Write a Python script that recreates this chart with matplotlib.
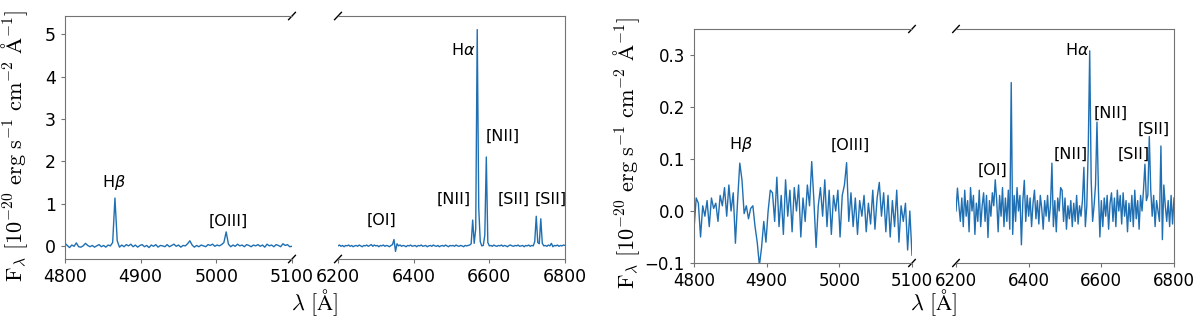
"""Broken-axis emission line spectra, two apertures side by side."""
import matplotlib
import numpy as np

matplotlib.use("Agg")
from matplotlib import pyplot as plt

# wavelength grids (Angstrom)
wave_blue = np.arange(4800, 5101, 3)
wave_red = np.arange(6200, 6801, 4)

# bright aperture, flux in 1e-20 erg/s/cm2/A
flux_a_blue = [
    0.06, 0.01, -0.04, 0.02, -0.01, 0.07, -0.02, -0.03, 0.00, 0.06,
    0.01, -0.02, 0.01, -0.03, 0.00, 0.03, -0.02, 0.01, -0.03, 0.02,
    0.00, 0.08, 1.13, 0.12, -0.03, 0.02, -0.02, 0.03, 0.00, 0.04,
    -0.02, 0.02, -0.03, 0.01, 0.03, -0.02, 0.01, -0.04, 0.02, -0.01,
    0.03, -0.03, 0.01, 0.00, -0.02, 0.03, -0.02, 0.01, 0.04, -0.01,
    0.02, -0.03, 0.01, 0.00, 0.05, 0.12, 0.02, -0.03, 0.01, -0.02,
    0.02, 0.00, -0.02, 0.03, 0.01, 0.04, -0.01, 0.02, 0.00, 0.03,
    0.08, 0.33, 0.04, -0.02, 0.02, -0.01, 0.04, 0.00, 0.02, -0.02,
    0.03, 0.01, -0.02, 0.02, 0.00, 0.03, -0.01, 0.02, -0.03, 0.04,
    0.00, 0.02, -0.02, 0.03, 0.01, -0.02, 0.05, 0.01, 0.03, -0.02,
    -0.01,
]
flux_a_red = [
    0.00, 0.02, -0.01, 0.01, -0.02, 0.01, 0.00, 0.02, -0.01, 0.01,
    -0.02, 0.00, 0.01, -0.01, 0.02, 0.00, -0.02, 0.01, 0.00, 0.02,
    -0.01, 0.01, 0.03, -0.01, 0.02, 0.00, 0.01, -0.02, 0.01, 0.00,
    0.02, -0.01, 0.01, 0.00, -0.02, 0.01, 0.03, 0.15, -0.13, 0.05,
    0.00, 0.02, -0.01, 0.01, 0.00, -0.02, 0.01, 0.00, 0.02, -0.01,
    0.00, 0.01, -0.02, 0.01, 0.00, 0.02, -0.01, 0.00, 0.01, -0.02,
    0.00, 0.01, -0.01, 0.02, 0.00, -0.01, 0.01, -0.02, 0.00, 0.01,
    -0.01, 0.02, 0.00, -0.02, 0.01, 0.00, 0.01, -0.01, 0.02, 0.00,
    -0.01, 0.01, 0.00, -0.02, 0.01, 0.00, 0.01, 0.02, 0.05, 0.61,
    0.06, 0.40, 5.11, 0.90, 0.10, 0.00, 0.01, 0.25, 2.10, 0.08,
    0.00, 0.01, -0.01, 0.02, 0.00, -0.01, 0.01, 0.00, 0.02, -0.01,
    0.01, 0.00, -0.02, 0.01, 0.02, 0.00, -0.01, 0.01, 0.00, 0.02,
    -0.01, 0.00, 0.01, -0.02, 0.01, 0.00, 0.02, -0.01, 0.01, 0.00,
    0.10, 0.70, 0.08, 0.05, 0.64, 0.06, 0.00, 0.01, -0.01, 0.02,
    0.00, 0.06, -0.02, 0.01, 0.00, 0.02, -0.01, 0.01, 0.00, 0.02,
    0.01,
]

# faint aperture
flux_b_blue = [
    -0.035, 0.025, 0.015, -0.050, 0.010, -0.010, 0.020, -0.030, 0.025, 0.005,
    0.015, -0.020, 0.030, 0.010, 0.045, -0.010, 0.050, 0.000, 0.035, -0.062,
    0.020, 0.092, 0.060, -0.005, 0.010, -0.015, 0.005, 0.010, -0.030, -0.060,
    -0.105, -0.070, -0.020, -0.060, 0.000, 0.040, 0.035, -0.020, 0.065, -0.030,
    0.030, -0.045, 0.060, -0.010, 0.040, -0.040, 0.045, 0.000, 0.050, -0.050,
    0.025, -0.020, 0.050, 0.010, 0.095, 0.020, -0.070, 0.010, 0.045, -0.010,
    0.060, -0.030, 0.040, -0.045, 0.030, 0.000, 0.040, -0.050, 0.030, 0.050,
    0.093, -0.020, 0.035, -0.030, 0.025, -0.045, 0.020, -0.010, 0.030, -0.040,
    0.015, -0.025, 0.040, -0.035, 0.025, 0.055, -0.010, 0.035, -0.040, 0.030,
    -0.050, 0.020, -0.030, 0.040, -0.060, 0.010, -0.020, 0.015, -0.075, 0.000,
    -0.085,
]
flux_b_red = [
    0.000, 0.044, 0.010, -0.020, 0.025, -0.030, 0.040, -0.010, 0.020, -0.040,
    0.045, 0.000, 0.030, -0.045, 0.015, -0.020, 0.040, -0.030, 0.010, 0.035,
    -0.020, 0.030, -0.051, 0.020, -0.010, 0.035, 0.010, 0.060, 0.020, -0.040,
    0.030, -0.010, 0.045, -0.030, 0.025, -0.020, 0.040, -0.035, 0.247, -0.045,
    0.030, -0.020, 0.045, 0.000, 0.030, -0.065, 0.020, 0.059, -0.020, 0.030,
    -0.010, 0.025, -0.030, 0.015, 0.040, -0.015, 0.020, -0.025, 0.030, 0.005,
    -0.035, 0.020, -0.010, 0.030, -0.020, 0.010, 0.092, -0.030, 0.020, -0.040,
    0.025, 0.000, 0.045, 0.040, -0.020, 0.025, -0.035, 0.010, -0.015, 0.020,
    -0.030, 0.015, -0.020, 0.030, -0.025, 0.010, -0.010, 0.020, 0.084, -0.030,
    0.010, 0.120, 0.308, 0.060, -0.020, 0.010, 0.050, 0.171, 0.040, -0.050,
    0.020, -0.030, 0.025, -0.010, 0.030, -0.035, 0.015, 0.035, -0.020, 0.025,
    -0.030, 0.040, 0.000, 0.030, -0.025, 0.035, -0.010, 0.020, -0.040, 0.015,
    -0.020, 0.030, -0.030, 0.040, -0.015, 0.020, -0.035, 0.030, 0.000, 0.040,
    0.090, 0.020, 0.030, 0.143, 0.040, -0.010, 0.030, -0.030, 0.020, 0.000,
    -0.020, 0.125, -0.055, 0.050, 0.010, -0.020, 0.020, -0.030, 0.030, -0.025,
    0.025,
]

# line labels: (text, wavelength, height)
labels_a_blue = [(r"H$\beta$", 4864, 1.50), ("[OIII]", 5016, 0.59)]
labels_a_red = [
    ("[OI]", 6314, 0.61), ("[NII]", 6505, 1.10), (r"H$\alpha$", 6530, 4.63),
    ("[NII]", 6636, 2.59), ("[SII]", 6664, 1.10), ("[SII]", 6763, 1.10),
]
labels_b_blue = [(r"H$\beta$", 4864, 0.127), ("[OIII]", 5015, 0.127)]
labels_b_red = [
    ("[OI]", 6300, 0.078), ("[NII]", 6515, 0.109), (r"H$\alpha$", 6533, 0.310),
    ("[NII]", 6625, 0.188), ("[SII]", 6688, 0.109), ("[SII]", 6743, 0.157),
]

LINE_COLOR = "#1f6fb2"
SPINE_COLOR = "0.45"
W, H = 1200, 321


def _rect(x0, x1, ytop, ybot):
    return [x0 / W, (H - ybot) / H, (x1 - x0) / W, (ybot - ytop) / H]


def _style(ax, size):
    for sp in ax.spines.values():
        sp.set_color(SPINE_COLOR)
    ax.tick_params(colors=SPINE_COLOR, labelcolor="black", labelsize=size, length=3)


def _broken_pair(fig, left_rect, right_rect, blue, red, ylim, yticks, ylabels, size):
    ax1 = fig.add_axes(left_rect)
    ax2 = fig.add_axes(right_rect)
    ax1.plot(wave_blue, blue[0], color=LINE_COLOR, linewidth=1.0)
    ax2.plot(wave_red, red[0], color=LINE_COLOR, linewidth=1.0)
    ax1.set_xlim(4800, 5100)
    ax2.set_xlim(6200, 6800)
    ax1.set_xticks([4800, 4900, 5000, 5100])
    ax2.set_xticks([6200, 6400, 6600, 6800])
    for ax in (ax1, ax2):
        ax.set_ylim(*ylim)
        _style(ax, size)
    ax1.set_yticks(yticks)
    ax1.set_yticklabels(ylabels)
    ax2.set_yticks([])
    ax1.spines["right"].set_visible(False)
    ax2.spines["left"].set_visible(False)

    for ax, labels in ((ax1, blue[1]), (ax2, red[1])):
        for text, x, y in labels:
            ax.text(x, y, text, ha="center", va="center", fontsize=11.5)

    # diagonal break marks
    d = 0.015
    kw = dict(color="k", clip_on=False, linewidth=1.0)
    ax1.plot((1 - d, 1 + d), (-d, d), transform=ax1.transAxes, **kw)
    ax1.plot((1 - d, 1 + d), (1 - d, 1 + d), transform=ax1.transAxes, **kw)
    ax2.plot((-d, d), (-d, d), transform=ax2.transAxes, **kw)
    ax2.plot((-d, d), (1 - d, 1 + d), transform=ax2.transAxes, **kw)
    return ax1, ax2


fig = plt.figure(figsize=(12, 3.21), dpi=100)

_broken_pair(
    fig, _rect(65, 292, 16, 259), _rect(338, 565, 16, 259),
    (flux_a_blue, labels_a_blue), (flux_a_red, labels_a_red),
    (-0.31, 5.43), [0, 1, 2, 3, 4, 5], ["0", "1", "2", "3", "4", "5"], 12.5,
)
_broken_pair(
    fig, _rect(694, 912, 29, 263), _rect(956, 1174, 29, 263),
    (flux_b_blue, labels_b_blue), (flux_b_red, labels_b_red),
    (-0.1, 0.35), [-0.1, 0.0, 0.1, 0.2, 0.3], ["\u22120.1", "0.0", "0.1", "0.2", "0.3"], 12,
)

ylab = r"$\mathrm{F_{\lambda}\ [10^{-20}\ erg\ s^{-1}\ cm^{-2}\ \AA^{-1}]}$"
xlab = r"$\lambda\ [\mathrm{\AA}]$"
for xc, yc, xl in ((15, 146, 315), (627, 153, 934)):
    fig.text(xc / W, 1 - yc / H, ylab, rotation=90, ha="center", va="center",
             fontsize=16, math_fontfamily="cm")
    fig.text(xl / W, 1 - 303 / H, xlab, ha="center", va="center",
             fontsize=16, math_fontfamily="cm")

fig.savefig("out.png")
plt.close(fig)
